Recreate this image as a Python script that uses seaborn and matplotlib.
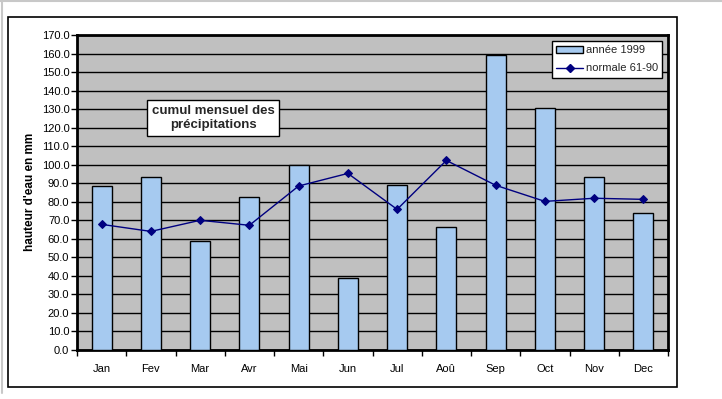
import matplotlib
matplotlib.use("Agg")
import matplotlib.pyplot as plt
import seaborn as sns
import pandas as pd
from matplotlib.patches import Rectangle, Patch
from matplotlib.lines import Line2D
from matplotlib.ticker import FormatStrFormatter, FixedLocator

months = ["Jan", "Fev", "Mar", "Avr", "Mai", "Jun", "Jul", "Aoû", "Sep", "Oct", "Nov", "Dec"]
annee_1999 = [88.5, 93.2, 58.6, 82.4, 100.0, 38.7, 88.9, 66.2, 159.2, 130.4, 93.2, 73.8]
normale_61_90 = [67.8, 64.0, 70.0, 67.3, 88.5, 95.3, 75.9, 102.3, 88.9, 80.2, 81.9, 81.3]
yticks = [i * 10 for i in range(18)]

sns.set_theme(style="white")
plt.rcParams["font.family"] = ["Liberation Sans", "DejaVu Sans"]

W, H = 722, 399
fig = plt.figure(figsize=(W / 100, H / 100), dpi=100)
fig.patch.set_facecolor("white")

def fx(px):
    return px / W

def fy(py):
    return 1 - py / H

# outer frame and light gray window borders
fig.patches.append(Rectangle((fx(8), fy(387)), fx(677) - fx(8), fy(17) - fy(387),
                             transform=fig.transFigure, fill=False, edgecolor="black", lw=1.2))
fig.lines.append(Line2D([0, 1], [fy(1), fy(1)], transform=fig.transFigure, color="#c8c8c8", lw=1.5))
fig.lines.append(Line2D([fx(1.5), fx(1.5)], [fy(1), fy(393)], transform=fig.transFigure, color="#c8c8c8", lw=1.5))

ax = fig.add_axes([fx(77), fy(350), fx(668) - fx(77), fy(35) - fy(350)])
ax.set_facecolor("#C0C0C0")

df = pd.DataFrame({"mois": months, "annee": annee_1999, "normale": normale_61_90})

sns.barplot(data=df, x="mois", y="annee", color="#A6CAF0", saturation=1,
            edgecolor="black", linewidth=1, width=0.41, ax=ax, zorder=3)
sns.pointplot(data=df, x="mois", y="normale", color="#000080", markers="D",
              markersize=4, linewidth=1, ax=ax, zorder=4)

ax.set_ylim(0, 170)
ax.set_xlim(-0.5, 11.5)
ax.set_yticks(yticks)
ax.yaxis.set_major_formatter(FormatStrFormatter("%.1f"))
ax.yaxis.grid(True, color="black", lw=1)
ax.set_axisbelow(True)
for s in ax.spines.values():
    s.set_visible(True)
    s.set_color("black")
    s.set_linewidth(2)

# x ticks at category boundaries, labels at centers
ax.xaxis.set_major_locator(FixedLocator([i - 0.5 for i in range(13)]))
ax.set_xticklabels([])
ax.xaxis.set_minor_locator(FixedLocator(list(range(12))))
ax.set_xticklabels(months, minor=True)
ax.tick_params(axis="x", which="major", direction="out", length=4, width=1, color="black", bottom=True)
ax.tick_params(axis="x", which="minor", length=0, pad=10, labelsize=8, labelcolor="black")
ax.tick_params(axis="y", which="major", direction="out", length=4, width=1, color="black", left=True,
               labelsize=8, labelcolor="black", pad=1.5)
ax.set_xlabel("")
ax.set_ylabel("")
fig.text(fx(30), fy(192), "hauteur d'eau en mm", rotation=90, ha="center", va="center",
         fontsize=8.5, fontweight="bold", color="black")

handles = [Patch(facecolor="#A6CAF0", edgecolor="black", lw=1, label="année 1999"),
           Line2D([0], [0], color="#000080", lw=1, marker="D", markersize=4, label="normale 61-90")]
leg = fig.legend(handles=handles, loc="upper left",
                 bbox_to_anchor=(fx(552), fy(41)), bbox_transform=fig.transFigure,
                 fontsize=8, frameon=True, fancybox=False, shadow=False,
                 borderpad=0.4, handlelength=2.35, handleheight=0.55, handletextpad=0.27,
                 labelspacing=0.7, borderaxespad=0)
leg.get_frame().set_edgecolor("black")
leg.get_frame().set_linewidth(1)
leg.get_frame().set_facecolor("white")
leg.get_frame().set_alpha(1)

fig.text(fx(213), fy(118), "cumul mensuel des\nprécipitations", ha="center", va="center",
         fontsize=9.5, fontweight="bold", linespacing=1.3,
         bbox=dict(boxstyle="square,pad=0.35", facecolor="white", edgecolor="black", lw=1))

fig.savefig("out.png", dpi=100)
